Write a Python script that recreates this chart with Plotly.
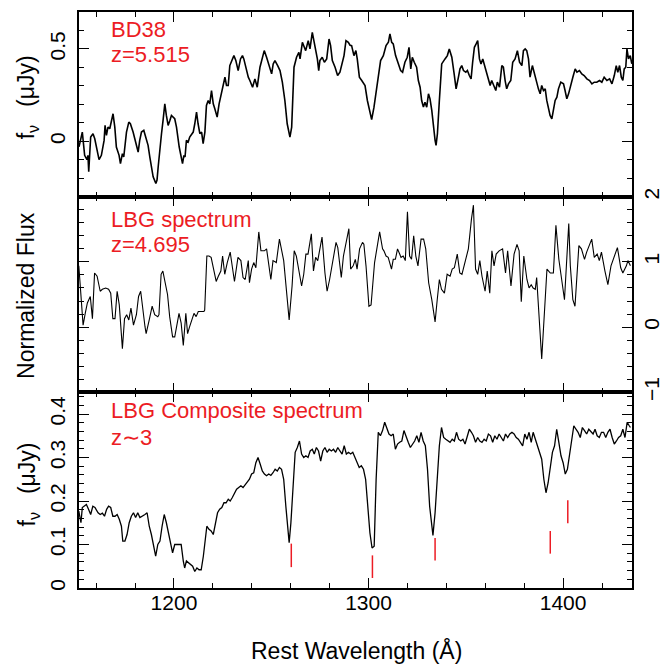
import plotly.graph_objects as go

# ---------------- data ----------------
bd38_wave = [
    1151.2, 1152.9, 1154.1, 1155.3, 1155.8, 1156.2, 1157.2, 1158.4, 1159.3, 1160.1,
    1161.0, 1161.5, 1162.7, 1163.5, 1164.1, 1164.6, 1165.3, 1166.1, 1167.0, 1168.7,
    1169.6, 1170.4, 1171.8, 1172.5, 1173.5, 1174.2, 1174.9, 1175.6, 1176.8, 1177.6,
    1179.0, 1180.7, 1181.6, 1182.4, 1183.3, 1184.5, 1185.5, 1186.7, 1187.6, 1188.4,
    1189.3, 1190.7, 1191.3, 1191.9, 1192.7, 1193.6, 1194.4, 1195.3, 1196.1, 1197.0,
    1197.9, 1198.7, 1200.4, 1201.3, 1202.7, 1203.5, 1204.4, 1205.1, 1205.7, 1206.4,
    1207.3, 1208.1, 1209.9, 1210.7, 1211.6, 1212.4, 1213.3, 1214.2, 1215.0, 1215.9,
    1216.7, 1217.6, 1218.4, 1219.3, 1220.2, 1221.0, 1222.2, 1223.2, 1224.4, 1225.6,
    1226.2, 1227.0, 1227.9, 1228.7, 1229.9, 1230.8, 1231.8, 1233.0, 1234.2, 1235.2,
    1235.9, 1237.3, 1238.2, 1239.0, 1240.4, 1241.6, 1242.8, 1244.2, 1245.5, 1246.4,
    1247.6, 1249.0, 1250.2, 1251.0, 1251.9, 1253.3, 1254.5, 1255.7, 1257.0, 1258.2,
    1259.6, 1260.5, 1261.0, 1261.7, 1263.0, 1264.2, 1264.8, 1266.0, 1267.0, 1267.7,
    1269.0, 1269.9, 1271.1, 1272.0, 1272.8, 1273.7, 1274.4, 1275.0, 1276.2, 1277.3,
    1278.5, 1279.7, 1280.5, 1281.4, 1282.8, 1284.1, 1285.3, 1286.2, 1287.4, 1288.4,
    1289.6, 1290.5, 1291.3, 1292.5, 1293.5, 1294.2, 1295.3, 1296.5, 1298.2, 1299.4,
    1300.4, 1301.6, 1302.8, 1304.2, 1305.0, 1306.2, 1307.6, 1309.0, 1310.2, 1311.0,
    1311.9, 1312.7, 1313.9, 1315.3, 1316.5, 1317.5, 1318.7, 1319.9, 1320.8, 1321.7,
    1322.5, 1323.5, 1324.7, 1325.6, 1326.5, 1327.3, 1328.2, 1329.0, 1329.9, 1330.8,
    1331.6, 1332.5, 1333.3, 1334.2, 1334.7, 1335.4, 1336.4, 1337.6, 1339.3, 1340.5,
    1341.5, 1342.8, 1344.0, 1345.0, 1346.2, 1347.0, 1347.9, 1348.8, 1350.0, 1350.8,
    1351.8, 1352.7, 1353.5, 1354.4, 1355.3, 1356.1, 1357.0, 1357.8, 1358.7, 1359.9,
    1360.8, 1361.6, 1362.5, 1363.3, 1364.5, 1365.4, 1366.2, 1367.3, 1368.5, 1369.3,
    1370.2, 1371.0, 1371.9, 1373.1, 1374.1, 1375.3, 1376.5, 1377.6, 1378.8, 1379.6,
    1380.5, 1381.3, 1382.2, 1383.0, 1384.2, 1385.1, 1386.1, 1387.3, 1388.2, 1389.0,
    1389.9, 1390.8, 1391.6, 1392.5, 1393.3, 1394.2, 1395.0, 1395.9, 1396.8, 1397.6,
    1398.8, 1400.2, 1401.0, 1401.9, 1402.8, 1403.6, 1405.0, 1406.2, 1407.1, 1408.4,
    1409.6, 1410.8, 1412.2, 1413.6, 1414.8, 1416.0, 1417.3, 1418.7, 1419.9, 1421.1,
    1422.5, 1423.9, 1425.1, 1426.3, 1427.3, 1428.1, 1429.0, 1429.9, 1430.7, 1431.4,
    1432.2, 1432.8, 1433.6, 1434.5, 1435.3,
]
bd38_flux = [
    -0.030, 0.050, -0.076, -0.099, -0.076, -0.165, 0.023, 0.041, 0.014, -0.031,
    -0.067, -0.099, -0.076, -0.031, 0.005, 0.086, 0.032, 0.077, 0.068, 0.149,
    0.077, -0.031, -0.076, -0.121, -0.067, -0.085, -0.013, 0.050, 0.104, 0.095,
    0.050, -0.031, -0.058, 0.005, 0.050, 0.059, 0.023, -0.022, -0.085, -0.138,
    -0.192, -0.228, -0.210, -0.138, -0.031, 0.041, 0.113, 0.203, 0.140, 0.086,
    0.113, 0.140, 0.122, 0.077, -0.031, -0.085, -0.121, -0.076, -0.085, 0.005,
    -0.004, 0.023, 0.050, 0.095, 0.158, 0.095, 0.041, 0.050, -0.013, 0.050,
    0.194, 0.221, 0.203, 0.275, 0.203, 0.176, 0.131, 0.203, 0.257, 0.320,
    0.347, 0.302, 0.302, 0.410, 0.446, 0.464, 0.437, 0.383, 0.446, 0.464,
    0.446, 0.374, 0.347, 0.329, 0.293, 0.338, 0.293, 0.401, 0.464, 0.491,
    0.455, 0.401, 0.365, 0.419, 0.437, 0.410, 0.383, 0.320, 0.221, 0.095,
    0.023, 0.077, 0.221, 0.401, 0.455, 0.482, 0.446, 0.536, 0.509, 0.491,
    0.545, 0.500, 0.590, 0.545, 0.491, 0.446, 0.383, 0.437, 0.455, 0.428,
    0.446, 0.554, 0.518, 0.437, 0.401, 0.356, 0.374, 0.410, 0.464, 0.545,
    0.536, 0.520, 0.518, 0.464, 0.491, 0.446, 0.347, 0.329, 0.302, 0.221,
    0.167, 0.117, 0.185, 0.293, 0.347, 0.437, 0.464, 0.518, 0.536, 0.581,
    0.536, 0.527, 0.464, 0.419, 0.383, 0.374, 0.428, 0.455, 0.509, 0.392,
    0.455, 0.428, 0.401, 0.329, 0.293, 0.221, 0.185, 0.212, 0.185, 0.257,
    0.230, 0.167, 0.077, 0.005, -0.022, 0.041, 0.221, 0.419, 0.446, 0.464,
    0.500, 0.455, 0.365, 0.284, 0.347, 0.392, 0.410, 0.383, 0.374, 0.383,
    0.356, 0.338, 0.428, 0.509, 0.527, 0.545, 0.446, 0.419, 0.446, 0.401,
    0.374, 0.338, 0.302, 0.329, 0.293, 0.275, 0.320, 0.293, 0.410, 0.401,
    0.329, 0.284, 0.311, 0.329, 0.428, 0.446, 0.491, 0.428, 0.410, 0.491,
    0.500, 0.491, 0.446, 0.347, 0.410, 0.374, 0.320, 0.284, 0.257, 0.302,
    0.275, 0.284, 0.221, 0.167, 0.140, 0.122, 0.167, 0.221, 0.239, 0.284,
    0.320, 0.311, 0.275, 0.230, 0.257, 0.293, 0.347, 0.392, 0.374, 0.383,
    0.365, 0.356, 0.338, 0.329, 0.311, 0.320, 0.320, 0.329, 0.320, 0.347,
    0.329, 0.338, 0.311, 0.356, 0.410, 0.374, 0.410, 0.347, 0.329, 0.392,
    0.401, 0.500, 0.446, 0.464, 0.419,
]

lbg_wave = [
    1151.1, 1153.3, 1154.4, 1155.5, 1157.0, 1158.1, 1159.2, 1160.5, 1162.1, 1163.2,
    1164.9, 1166.4, 1167.5, 1168.6, 1169.7, 1170.8, 1171.9, 1173.5, 1174.6, 1175.7,
    1176.8, 1177.9, 1179.2, 1180.7, 1181.8, 1182.9, 1185.1, 1185.7, 1187.3, 1188.8,
    1190.1, 1191.7, 1192.3, 1193.4, 1194.3, 1195.6, 1196.7, 1197.8, 1199.3, 1200.4,
    1201.5, 1202.6, 1203.7, 1204.8, 1206.1, 1207.0, 1208.1, 1210.3, 1211.4, 1212.5,
    1215.4, 1215.8, 1216.9, 1218.0, 1219.1, 1220.2, 1221.7, 1222.8, 1224.1, 1225.0,
    1226.1, 1227.4, 1228.9, 1231.1, 1232.9, 1234.4, 1235.5, 1236.6, 1238.2, 1238.8,
    1239.9, 1241.0, 1242.1, 1243.6, 1244.7, 1246.5, 1247.6, 1249.8, 1250.9, 1252.6,
    1254.2, 1256.4, 1257.9, 1259.2, 1260.7, 1261.8, 1262.9, 1264.7, 1265.6, 1266.7,
    1267.8, 1268.9, 1270.6, 1271.7, 1272.8, 1273.9, 1276.1, 1277.6, 1278.7, 1280.0,
    1281.6, 1283.3, 1284.2, 1286.0, 1287.1, 1289.9, 1290.8, 1292.1, 1293.2, 1294.1,
    1295.4, 1296.9, 1297.6, 1298.7, 1300.2, 1301.3, 1303.1, 1304.6, 1305.7, 1307.2,
    1307.9, 1309.0, 1310.1, 1311.8, 1312.7, 1313.8, 1314.9, 1316.0, 1316.7, 1317.8,
    1318.9, 1320.0, 1321.1, 1322.1, 1323.2, 1324.3, 1325.4, 1327.0, 1328.3, 1329.4,
    1330.9, 1332.5, 1334.2, 1335.3, 1336.4, 1337.5, 1339.0, 1340.4, 1341.9, 1343.0,
    1344.1, 1345.6, 1346.9, 1348.0, 1349.6, 1351.3, 1352.9, 1353.9, 1355.0, 1356.1,
    1357.2, 1358.3, 1359.9, 1361.0, 1362.3, 1363.4, 1364.5, 1365.6, 1367.1, 1368.9,
    1370.4, 1371.5, 1373.2, 1374.8, 1376.3, 1377.4, 1378.5, 1379.8, 1381.4, 1382.5,
    1383.6, 1384.6, 1385.7, 1386.4, 1389.0, 1390.8, 1391.7, 1393.4, 1395.0, 1396.3,
    1397.8, 1400.7, 1402.9, 1403.7, 1405.0, 1406.1, 1408.1, 1409.4, 1411.0, 1412.1,
    1414.7, 1416.0, 1417.5, 1418.6, 1419.7, 1421.5, 1423.0, 1424.6, 1426.3, 1427.9,
    1429.6, 1430.7, 1432.5, 1433.3, 1434.6,
]
lbg_flux = [
    0.94, 0.03, 0.21, 0.37, 0.47, 0.13, 0.83, 0.78, 0.55, 0.58,
    0.60, 0.58, 0.52, 0.13, 0.13, 0.55, 0.34, -0.33, 0.13, 0.19,
    0.11, 0.29, 0.03, 0.19, 0.47, 0.55, 0.01, -0.10, 0.11, 0.32,
    0.19, 0.16, 0.19, 0.81, 0.86, 0.68, 0.50, 0.16, -0.15, -0.15,
    0.03, 0.21, 0.06, -0.28, 0.21, -0.10, 0.01, 0.21, 0.16, 0.24,
    0.24, 0.26, 1.09, 1.09, 1.07, 0.91, 0.70, 0.78, 0.86, 1.09,
    0.81, 0.99, 1.15, 0.70, 1.07, 1.02, 0.76, 0.73, 1.02, 0.68,
    0.89, 0.99, 0.91, 1.46, 1.17, 1.17, 1.20, 0.73, 1.02, 0.99,
    1.35, 1.02, 0.58, 0.11, 0.63, 1.17, 1.09, 0.78, 0.63, 0.81,
    1.12, 1.12, 1.43, 0.86, 1.07, 1.02, 1.38, 0.83, 0.55, 0.73,
    1.04, 1.30, 1.22, 0.76, 1.09, 1.51, 0.89, 0.94, 1.04, 0.89,
    1.20, 1.30, 1.27, 0.94, 0.32, 0.34, 0.99, 1.30, 1.46, 1.20,
    1.17, 1.09, 1.07, 0.89, 1.04, 1.04, 1.20, 1.12, 1.07, 1.09,
    1.02, 1.77, 1.09, 1.04, 1.40, 1.09, 0.94, 1.35, 1.35, 1.20,
    0.68, 0.42, 0.08, 0.42, 0.73, 0.58, 0.52, 0.81, 0.78, 0.89,
    0.91, 1.12, 0.83, 0.81, 0.99, 1.20, 1.66, 1.87, 0.89, 0.81,
    1.02, 0.78, 0.55, 0.86, 0.52, 1.17, 0.94, 1.12, 1.17, 1.20,
    0.83, 1.17, 0.63, 1.12, 1.27, 1.17, 0.39, 1.09, 0.73, 0.60,
    0.65, 0.60, 0.58, 0.76, -0.49, 0.37, 0.89, 0.83, 0.83, 1.56,
    1.04, 0.42, 1.59, 0.94, 0.42, 0.32, 1.25, 1.20, 1.04, 1.15,
    1.35, 1.07, 1.12, 1.02, 1.15, 0.86, 0.65, 0.94, 1.07, 1.22,
    0.91, 0.83, 0.94, 1.02, 0.94,
]

comp_wave = [
    1151.1, 1152.2, 1152.9, 1153.9, 1155.0, 1156.1, 1157.2, 1158.3, 1159.4, 1161.0,
    1162.1, 1163.2, 1164.3, 1165.4, 1166.4, 1167.5, 1168.6, 1169.7, 1170.8, 1171.9,
    1173.0, 1173.7, 1174.8, 1175.9, 1177.0, 1178.1, 1179.2, 1180.3, 1181.4, 1182.5,
    1184.0, 1185.1, 1186.2, 1187.3, 1188.4, 1189.5, 1190.6, 1191.7, 1192.8, 1193.9,
    1195.0, 1196.1, 1197.1, 1198.2, 1199.3, 1200.4, 1201.5, 1202.6, 1203.7, 1204.8,
    1205.5, 1206.4, 1207.5, 1208.6, 1209.6, 1210.7, 1211.8, 1212.9, 1214.0, 1215.1,
    1216.9, 1218.0, 1219.1, 1220.2, 1221.3, 1222.4, 1223.5, 1224.6, 1225.7, 1226.8,
    1227.9, 1228.9, 1230.0, 1231.1, 1232.2, 1233.3, 1234.4, 1235.5, 1236.6, 1237.7,
    1238.8, 1239.9, 1241.0, 1242.1, 1243.2, 1244.3, 1245.4, 1246.5, 1247.6, 1248.7,
    1249.8, 1250.9, 1252.0, 1253.1, 1254.2, 1255.3, 1256.4, 1257.5, 1258.6, 1259.2,
    1260.1, 1261.2, 1262.3, 1263.4, 1264.5, 1265.6, 1266.7, 1267.8, 1268.9, 1270.0,
    1271.1, 1272.1, 1273.2, 1274.3, 1275.4, 1276.5, 1277.6, 1278.7, 1279.8, 1280.9,
    1282.0, 1283.1, 1284.2, 1285.3, 1286.4, 1287.5, 1288.6, 1289.7, 1290.8, 1291.9,
    1293.0, 1294.1, 1295.2, 1296.3, 1297.4, 1298.5, 1299.6, 1300.7, 1301.8, 1302.9,
    1303.9, 1305.0, 1306.1, 1307.2, 1308.3, 1309.4, 1310.5, 1311.6, 1312.7, 1313.8,
    1314.9, 1316.0, 1317.1, 1318.2, 1319.3, 1320.4, 1321.5, 1322.6, 1323.7, 1324.8,
    1325.9, 1327.0, 1328.1, 1329.2, 1330.3, 1331.4, 1332.5, 1333.1, 1334.2, 1335.3,
    1336.4, 1337.5, 1338.6, 1339.7, 1340.8, 1341.9, 1343.0, 1344.1, 1345.2, 1346.3,
    1347.4, 1348.5, 1349.6, 1350.7, 1351.8, 1352.9, 1353.9, 1355.0, 1356.1, 1357.2,
    1358.3, 1359.4, 1360.5, 1361.6, 1362.7, 1363.8, 1364.9, 1366.0, 1367.1, 1368.2,
    1369.3, 1370.4, 1371.5, 1372.6, 1373.7, 1374.8, 1375.9, 1377.0, 1378.1, 1379.2,
    1380.3, 1381.4, 1382.5, 1383.6, 1384.6, 1385.7, 1386.8, 1387.9, 1389.0, 1390.1,
    1391.2, 1392.3, 1393.4, 1394.5, 1395.6, 1396.7, 1397.8, 1398.9, 1400.0, 1401.1,
    1402.2, 1403.3, 1404.4, 1405.5, 1406.6, 1407.7, 1408.8, 1409.9, 1411.0, 1412.1,
    1413.2, 1414.3, 1415.4, 1416.4, 1417.5, 1418.6, 1419.7, 1420.8, 1421.9, 1423.0,
    1424.1, 1425.2, 1426.3, 1427.4, 1428.5, 1429.6, 1430.7, 1431.8, 1432.9, 1434.0,
    1434.6,
]
comp_flux = [
    0.177, 0.150, 0.185, 0.188, 0.192, 0.181, 0.169, 0.188, 0.185, 0.173,
    0.169, 0.172, 0.165, 0.181, 0.188, 0.185, 0.165, 0.165, 0.169, 0.158,
    0.142, 0.108, 0.108, 0.123, 0.150, 0.165, 0.173, 0.162, 0.173, 0.162,
    0.165, 0.169, 0.173, 0.142, 0.123, 0.100, 0.073, 0.100, 0.108, 0.142,
    0.169, 0.150, 0.127, 0.104, 0.081, 0.100, 0.100, 0.100, 0.100, 0.062,
    0.046, 0.062, 0.058, 0.054, 0.050, 0.038, 0.046, 0.042, 0.042, 0.073,
    0.142, 0.135, 0.131, 0.123, 0.146, 0.173, 0.181, 0.185, 0.196, 0.196,
    0.204, 0.200, 0.208, 0.219, 0.227, 0.231, 0.235, 0.231, 0.238, 0.246,
    0.250, 0.262, 0.265, 0.288, 0.300, 0.285, 0.269, 0.262, 0.258, 0.262,
    0.259, 0.265, 0.273, 0.269, 0.277, 0.273, 0.250, 0.188, 0.135, 0.104,
    0.150, 0.219, 0.312, 0.323, 0.338, 0.308, 0.300, 0.304, 0.300, 0.315,
    0.319, 0.308, 0.323, 0.315, 0.292, 0.315, 0.323, 0.312, 0.319, 0.315,
    0.319, 0.312, 0.323, 0.315, 0.308, 0.327, 0.308, 0.312, 0.308, 0.312,
    0.300, 0.285, 0.277, 0.281, 0.273, 0.250, 0.188, 0.127, 0.092, 0.096,
    0.250, 0.358, 0.350, 0.362, 0.381, 0.369, 0.354, 0.350, 0.354, 0.319,
    0.331, 0.335, 0.338, 0.362, 0.346, 0.335, 0.323, 0.331, 0.338, 0.350,
    0.335, 0.358, 0.338, 0.327, 0.273, 0.188, 0.138, 0.121, 0.173, 0.250,
    0.327, 0.369, 0.346, 0.342, 0.338, 0.335, 0.342, 0.338, 0.358, 0.342,
    0.338, 0.342, 0.331, 0.350, 0.365, 0.358, 0.350, 0.335, 0.346, 0.338,
    0.335, 0.342, 0.338, 0.354, 0.350, 0.335, 0.350, 0.342, 0.354, 0.346,
    0.338, 0.354, 0.346, 0.354, 0.358, 0.354, 0.346, 0.342, 0.335, 0.327,
    0.354, 0.342, 0.358, 0.335, 0.358, 0.342, 0.331, 0.312, 0.296, 0.250,
    0.219, 0.242, 0.281, 0.312, 0.327, 0.365, 0.335, 0.304, 0.288, 0.262,
    0.273, 0.304, 0.342, 0.373, 0.365, 0.358, 0.346, 0.369, 0.362, 0.354,
    0.365, 0.358, 0.354, 0.365, 0.350, 0.346, 0.358, 0.358, 0.346, 0.358,
    0.365, 0.346, 0.331, 0.338, 0.346, 0.350, 0.365, 0.346, 0.381, 0.373,
    0.369,
]

# absorption line markers (rest wavelength, lower/upper flux of the red tick)
line_wave = [1260.3, 1302.0, 1334.2, 1393.4, 1402.4]
line_lo = [0.048, 0.023, 0.063, 0.079, 0.149]
line_hi = [0.102, 0.075, 0.115, 0.131, 0.202]

panel_labels = [["BD38", "z=5.515"], ["LBG spectrum", "z=4.695"],
                ["LBG Composite spectrum", "z\u223c3"]]

# ---------------- figure ----------------
RED = "#ec1c24"
FONT = "Liberation Sans, Arial, Helvetica, sans-serif"
XR = [1151.2, 1435.4]

fig = go.Figure()
fig.add_trace(go.Scatter(x=bd38_wave, y=bd38_flux, mode="lines",
                         line=dict(color="black", width=1.6), xaxis="x", yaxis="y",
                         showlegend=False, hoverinfo="skip"))
fig.add_trace(go.Scatter(x=lbg_wave, y=lbg_flux, mode="lines",
                         line=dict(color="black", width=1.1), xaxis="x2", yaxis="y2",
                         showlegend=False, hoverinfo="skip"))
fig.add_trace(go.Scatter(x=comp_wave, y=comp_flux, mode="lines",
                         line=dict(color="black", width=1.3), xaxis="x3", yaxis="y3",
                         showlegend=False, hoverinfo="skip"))

lx, ly = [], []
for w, lo, hi in zip(line_wave, line_lo, line_hi):
    lx += [w, w, None]
    ly += [lo, hi, None]
fig.add_trace(go.Scatter(x=lx, y=ly, mode="lines", line=dict(color=RED, width=1.5),
                         xaxis="x3", yaxis="y3", showlegend=False, hoverinfo="skip"))

def xax(anchor, labels):
    return dict(range=XR, anchor=anchor, showline=True, linecolor="black", linewidth=1.5,
                mirror="ticks", ticks="inside", ticklen=10, tickwidth=1.2, tickcolor="black",
                tick0=0, dtick=100, showgrid=False, zeroline=False, showticklabels=labels,
                tickfont=dict(size=21, color="black"), ticklabelstandoff=-5,
                automargin=False,
                minor=dict(ticks="inside", ticklen=5, tickwidth=1.2, tickcolor="black",
                           tick0=0, dtick=20, showgrid=False))

def yax(anchor, dom, rng, dt, mdt, side, standoff):
    return dict(domain=dom, range=rng, anchor=anchor, side=side, showline=True,
                linecolor="black", linewidth=1.5, mirror="ticks", ticks="inside",
                ticklen=10, tickwidth=1.2, tickcolor="black", tick0=0, dtick=dt,
                showgrid=False, zeroline=False, tickangle=-90, automargin=False,
                tickfont=dict(size=21, color="black"), ticklabelstandoff=standoff,
                minor=dict(ticks="inside", ticklen=5, tickwidth=1.2, tickcolor="black",
                           tick0=0, dtick=mdt, showgrid=False))

d1 = [0.6793, 1.0]
d2 = [0.3398, 0.6793]
d3 = [0.0, 0.3398]

fig.update_layout(
    width=670, height=664,
    margin=dict(l=79, r=38, t=12, b=76, autoexpand=False),
    paper_bgcolor="white", plot_bgcolor="white",
    font=dict(family=FONT, size=21, color="black"),
    xaxis=xax("y", False),
    xaxis2=xax("y2", False),
    xaxis3=xax("y3", True),
    yaxis=yax("x", d1, [-0.3, 0.7], 0.5, 0.1, "left", 4),
    yaxis2=yax("x2", d2, [-1, 2], 1, 0.2, "right", 0),
    yaxis3=yax("x3", d3, [0, 0.45], 0.1, 0.02, "left", 4),
)

ann = []
label_pos = [(0.970, 0.926), (0.640, 0.596), (0.308, 0.262)]
for (t1, t2), (y1, y2) in zip(panel_labels, label_pos):
    ann.append(dict(text=t1, x=0.054, y=y1, xref="paper", yref="paper", xanchor="left",
                    yanchor="middle", showarrow=False, font=dict(size=22, color=RED)))
    ann.append(dict(text=t2, x=0.054, y=y2, xref="paper", yref="paper", xanchor="left",
                    yanchor="middle", showarrow=False, font=dict(size=22, color=RED)))

ytitle = "f<sub>\u03bd</sub>\u2002 (\u03bcJy)"
ann.append(dict(text=ytitle, x=-0.094, y=0.852, xref="paper", yref="paper",
                textangle=-90, showarrow=False, xanchor="center", yanchor="middle",
                font=dict(size=23)))
ann.append(dict(text=ytitle, x=-0.092, y=0.180, xref="paper", yref="paper",
                textangle=-90, showarrow=False, xanchor="center", yanchor="middle",
                font=dict(size=23)))
ann.append(dict(text="Normalized Flux", x=-0.096, y=0.5087, xref="paper", yref="paper",
                textangle=-90, showarrow=False, xanchor="center", yanchor="middle",
                font=dict(size=23)))
ann.append(dict(text="Rest Wavelength (\u00c5)", x=0.501, y=-0.109, xref="paper",
                yref="paper", showarrow=False, xanchor="center", yanchor="middle",
                font=dict(size=23)))
fig.update_layout(annotations=ann)

fig.write_html("out.html", config={"displayModeBar": False},
               post_script="document.body.style.margin='0px';")
